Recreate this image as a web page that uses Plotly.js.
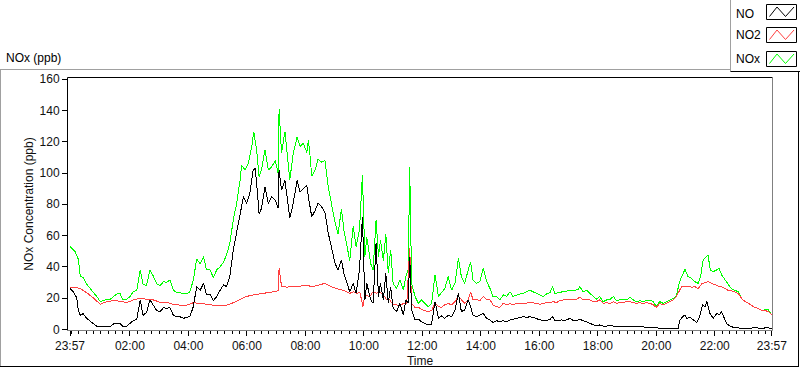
<!DOCTYPE html>
<html><head><meta charset="utf-8">
<script src="https://cdn.plot.ly/plotly-3.0.1.min.js"></script>
<style>html,body{margin:0;padding:0;background:#fff;overflow:hidden}#chart{width:800px;height:369px}
#chart .scatterlayer path.js-line{shape-rendering:crispEdges}</style>
</head><body><div id="chart"></div>
<script>
// Minutes elapsed since 23:57 (start of the 24 h record)
const noxT = [0,7,10,14,17,21,27,34,41,48, 55,62,68,75,82,89,96,103,109,116, 123,130,137,144,150,157,164,171,178,185,
  192,198,205,212,219,226,233,239,246,253, 260,267,274,280,287,294,301,308,315,321, 328,335,342,349,352,359,366,373,377,383,
  388,393,400,407,414,421,427,429,434,441, 448,451,458,466,472,479,486,489,492,496, 503,509,516,523,530,537,544,550,557,562,
  568,574,581,587,594,600,605,609,617,622, 628,633,637,643,648,653,658,663,670,677, 684,689,694,697,701,708,715,721,728,735,
  742,749,756,762,769,776,783,790,797,803, 810,817,822,827,834,841,848,855,862,868, 875,882,889,896,903,909,916,923,930,937,
  944,950,957,964,971,978,985,990,995,1002, 1009,1015,1022,1029,1036,1043,1046,1053,1060,1067, 1074,1080,1087,1094,1101,1108,1115,1121,1128,1135,
  1142,1149,1156,1162,1169,1176,1183,1190,1197,1203, 1210,1217,1224,1231,1238,1244,1250,1255,1262,1268, 1275,1282,1289,1294,1299,1306,1309,1314,1320,1327,
  1332,1337,1344,1350,1357,1364,1371,1378,1385,1392, 1398,1405,1412,1419,1426,1433,1440];
const noxV = [53,51,50,47,45,34,33,29,26,23.5, 21,17.7,18.3,19,19,21,22.6,22.6,18.8,19, 21,24,25,38,29,28,38,34,29,28,
  30.5,30,31.5,25,23.5,23.5,22.6,22.6,24,31.5, 45,42,46.5,38,38.4,33,38,40,43,47.5, 55,70,80.6,95.5,105,102,106,117,126.5,114.7,
  97.7,102,114.7,102,104,108,100,140.7,112.6,126.5, 102,95.5,112.6,123,117,119,113,121,113,98, 102,109,107,108,91,78.5,68,61,77,63.5,
  53,44,66,53,63.5,99,46.5,59,42,38, 70,46.5,57,44,61,36,51,29.4,26,31.6, 25,33.7,38,104,29.4,21,16.6,18.8,16.6,14.5,
  16.6,34.8,21,23,26,33.7,25,29.4,45.4,33.7, 29.4,38,43.3,31.6,29.4,30.5,39,30.5,26,21, 21,18.8,22,21,24,21,22,22.6,23,24,
  25,24,23,22,21,22.6,23.5,27.3,22.6,23.5, 24,24,24.7,25,25,25.6,27.3,24,25,23, 21,19.2,21,17.7,18.8,19.2,21,18.3,18.8,19.2,
  18.8,20.5,18.8,17.7,18.3,17.7,18.3,18.8,17.7,14.5, 17.7,16.6,17.7,18.8,19.8,21.3,29.4,33.7,38.4,33.7, 32.6,30.5,29.4,33.7,44.3,46.5,47.5,38,36.9,38,
  39,34.8,31.6,28.4,26,25,24,19.8,17.7,16.6, 15.6,14,13.4,12,12.4,12.4,9.2];

const noT = [0,7,14,17,21,27,34,41,48,55, 62,68,75,82,89,96,103,109,116,123, 130,137,144,150,157,164,171,178,185,192,
  198,205,212,219,226,233,239,246,253,260, 267,274,280,287,294,301,308,315,321,328, 335,342,349,356,362,369,376,380,383,388,
  393,400,407,414,421,427,429,434,441,448, 451,458,466,472,479,486,489,496,503,509, 516,523,530,537,544,550,557,562,568,574,
  581,587,594,600,605,609,617,622,628,633, 637,643,648,653,658,663,670,677,684,689, 694,697,701,708,715,721,728,735,742,749,
  756,762,769,776,783,790,797,803,810,817, 822,827,834,841,848,855,862,868,875,882, 889,896,903,909,916,923,930,937,944,950,
  957,964,971,978,985,990,995,1002,1009,1015, 1026,1033,1039,1046,1053,1060,1067,1074,1080,1087, 1094,1101,1108,1115,1128,1142,1156,1169,1183,1197,
  1210,1224,1238,1248,1251,1257,1262,1265,1272,1279, 1286,1292,1298,1303,1307,1313,1320,1327,1332,1337, 1342,1347,1354,1361,1368,1374,1392,1408,1415,1422,
  1429,1440];
const noV = [26,24,20,12,9,10,7,5.5,3.8,2, 1.7,1.5,1.5,1.5,3.4,3.4,3.8,1.5,2,3.8, 5.5,6.4,18.8,9,10.7,18.8,15.6,12,11.3,14,
  13.4,14,9,8,8,7,7.7,8,14.5,27.3, 25,29.4,22,22.6,18.3,21,25,28.4,27.3,34, 50.7,61.4,74,85,80.6,87,102,103,93.4,74,
  77.4,91,80.6,85,82.7,77.4,102,89,95.5,76, 71,80.6,95.5,88,90,92,85,72,76,80.6, 78.5,75,61.4,50.7,42,38,44.3,35.8,29.4,24,
  29.4,23,38,72,18.8,29.4,18.8,16.6,55,21, 29.4,18.8,35.8,16.6,27.3,13.4,11.3,16.6,9,18.8, 16.6,46.5,12.4,6,6.4,4.9,3.8,2.8,3.4,17.7,
  7,8.5,7,9,8,12.4,23,11.3,12.4,18.8, 14.5,9,8,9,10.2,7,6,4.3,5.5,4.9, 5.5,4.9,6,6.4,7,7.7,8,7.7,8,7.7,
  7,6,5.8,5.5,6.4,8,5.5,5.5,6,5.5, 7,5.5,5.5,6.4,5.5,4.9,3.8,2.8,2.1,2.8, 2.1,2.1,2.6,2.1,2.1,2.1,1.7,1.7,1.3,1.3,
  0.6,0.6,0.6,0.6,5.5,8,9.2,7,7.7,6, 4.3,8,15.6,14.5,17.7,10.2,7,10.2,9.2,11.3, 8,3.8,2.1,1.3,1.3,0.6,0.6,1.1,0.6,0.6,
  1.1,0.6];

const no2T = [0,10,21,34,48,62,75,89,103,116, 130,147,157,171,185,198,212,226,239,253, 267,280,294,308,321,335,349,362,376,390,
  403,417,427,429,434,444,458,472,486,499, 513,523,533,547,561,574,581,588,595,601, 605,615,622,629,636,643,650,656,663,670,
  677,684,691,697,701,708,715,721,728,735, 742,749,756,762,769,776,783,790,797,803, 810,817,822,827,834,841,848,855,862,868,
  875,882,889,896,903,909,916,923,937,950, 964,971,978,985,992,998,1005,1012,1019,1026, 1033,1039,1046,1053,1060,1067,1074,1080,1087,1094,
  1101,1108,1115,1121,1128,1135,1142,1149,1156,1162, 1169,1176,1183,1190,1197,1203,1210,1217,1224,1231, 1238,1244,1250,1255,1262,1268,1275,1282,1289,1296,
  1303,1309,1316,1323,1330,1337,1344,1350,1357,1364, 1371,1378,1385,1392,1398,1405,1412,1419,1426,1433, 1440];
const no2V = [27,27,26,23.5,20,16,17.7,18.3,18,17, 18.8,20,19,18.8,17.3,17.3,16,15.4,15.4,17, 16.6,16,15.4,15.4,15.4,17,19,21,22,22.6,
  23.5,24,24.7,39,27.7,27,27.3,27.7,28,27.3, 28.4,29.4,27.7,26,25,23,24,23,23.5,14.5, 22,21,24,23,24,22,18.8,18.8,15.6,15.6,
  15,16.6,16.6,52,16.6,14,14,12.8,12,11.3, 12,16.6,14.5,14,15.6,16.6,15.6,17.7,21,18.8, 16.6,18.8,24,18.8,19,18.3,21,19,18.8,15.6,
  14.5,14,16.6,15.6,16.6,15.6,16.6,16.6,16.6,17, 16,16.6,17,17,17.7,17,18.3,18.8,18.8,19.2, 19.2,19.2,20.5,18.8,18.8,18.8,17.7,17.7,18.8,16.6,
  17,16.6,17.7,16.6,17,17,17.7,17.7,17,16.6, 17,16.6,17,16.6,15.6,14,16.6,15.6,16.6,17.7, 18.8,21,25,27.3,27.7,27.7,26.9,27.3,26,29,
  29.9,30.5,29.4,28.4,27.7,27.3,26,25,24.7,24, 23,19.8,17.7,16.6,15.6,14,13.4,12,12,11.3, 9.2];

const seriesNames = ['NO', 'NO2', 'NOx'];
const tickMinutes = [0,123,243,363,483,603,723,843,963,1083,1203,1323,1440];
const tickLabels = ['23:57','02:00','04:00','06:00','08:00','10:00','12:00','14:00','16:00','18:00','20:00','22:00','23:57'];
const yTicks = [0,20,40,60,80,100,120,140,160];

// ---- layout helpers (pixel geometry) ----
const L = 68, R = 772, T = 78, B = 330;
const px = x => (x - L) / (R - L);
const py = y => (B - y) / (B - T);
const FONT = 'Liberation Sans, Arial, sans-serif';
const colors = {NO: '#000000', NO2: '#ff4040', NOx: '#00ff00'};

const minorVals = [];
for (let m = 3; m < 1440; m += 15) minorVals.push(m);

const traces = [
  {x: noxT, y: noxV, name: seriesNames[2], type: 'scatter', mode: 'lines', line: {color: colors.NOx, width: 1}},
  {x: no2T, y: no2V, name: seriesNames[1], type: 'scatter', mode: 'lines', line: {color: colors.NO2, width: 1}},
  {x: noT, y: noV, name: seriesNames[0], type: 'scatter', mode: 'lines', line: {color: colors.NO, width: 1}}
];

function hline(y, x0, x1, color) {
  return {type: 'line', xref: 'paper', yref: 'paper', x0: px(x0), x1: px(x1), y0: py(y), y1: py(y), line: {color: color, width: 1}, layer: 'above'};
}
function vline(x, y0, y1, color) {
  return {type: 'line', xref: 'paper', yref: 'paper', x0: px(x), x1: px(x), y0: py(y0), y1: py(y1), line: {color: color, width: 1}, layer: 'above'};
}

const shapes = [
  // plot frame
  vline(67.5, 77.5, 330.5, '#000'),
  hline(77.5, 67.5, 772.5, '#000'),
  vline(772.5, 77.5, 330.5, '#808080'),
  hline(330.5, 67.5, 772.5, '#808080'),
  // outer chart border
  hline(69.5, 0, 731, '#a0a0a0'),
  vline(0.5, 69.5, 367, '#a0a0a0'),
  vline(730.5, 0, 71.5, '#a0a0a0'),
  hline(71.5, 730.5, 800, '#000'),
  vline(798.5, 71.5, 367, '#000'),
  hline(366.5, 0, 799, '#000')
];

const annotations = [
  {text: 'NOx (ppb)', xref: 'paper', yref: 'paper', x: px(4), y: py(58), xanchor: 'left', yanchor: 'middle', showarrow: false,
   font: {family: FONT, size: 12, color: '#000'}}
];

const legendColors = [colors.NO, colors.NO2, colors.NOx];
const boxTops = [4.5, 27.5, 51.5];
const textY = [14, 35, 59];
seriesNames.forEach((nm, i) => {
  const t = boxTops[i];
  shapes.push({type: 'rect', xref: 'paper', yref: 'paper', x0: px(766.5), x1: px(796.5), y0: py(t), y1: py(t + 15),
    line: {color: '#000', width: 1}, fillcolor: '#fff', layer: 'above'});
  const pts = [[769.5, t + 12], [777, t + 2.5], [785.5, t + 12], [794, t + 2.5]];
  const path = pts.map((p, k) => (k ? 'L' : 'M') + px(p[0]) + ',' + py(p[1])).join(' ');
  shapes.push({type: 'path', xref: 'paper', yref: 'paper', path: path, line: {color: legendColors[i], width: 1}, layer: 'above'});
  annotations.push({text: nm, xref: 'paper', yref: 'paper', x: px(734), y: py(textY[i]), xanchor: 'left', yanchor: 'middle',
    showarrow: false, font: {family: FONT, size: 12, color: '#000'}});
});

const layout = {
  width: 800, height: 369,
  margin: {l: L, r: 800 - R, t: T, b: 369 - B, pad: 0},
  paper_bgcolor: '#fff', plot_bgcolor: '#fff',
  showlegend: false,
  font: {family: FONT, size: 12, color: '#111'},
  xaxis: {
    range: [-4.1, 1440.4], tickmode: 'array', tickvals: tickMinutes, ticktext: tickLabels,
    ticks: 'outside', ticklen: 5, tickcolor: '#000', tickwidth: 1,
    minor: {tickmode: 'array', tickvals: minorVals, ticks: 'outside', ticklen: 3, tickcolor: '#000', tickwidth: 1, showgrid: false},
    showgrid: false, zeroline: false, showline: false,
    tickfont: {family: FONT, size: 12, color: '#111'},
    title: {text: 'Time', standoff: 4, font: {family: FONT, size: 12, color: '#111'}},
    automargin: false
  },
  yaxis: {
    range: [-0.45, 160.8], tickmode: 'array', tickvals: yTicks,
    ticks: 'outside', ticklen: 5, tickcolor: '#000', tickwidth: 1,
    showgrid: false, zeroline: false, showline: false,
    tickfont: {family: FONT, size: 12, color: '#111'},
    title: {text: 'NOx Concentration (ppb)', standoff: 3, font: {family: FONT, size: 12, color: '#111'}},
    automargin: false
  },
  shapes: shapes,
  annotations: annotations
};

Plotly.newPlot('chart', traces, layout, {displayModeBar: false, staticPlot: true});
</script>
</body></html>
